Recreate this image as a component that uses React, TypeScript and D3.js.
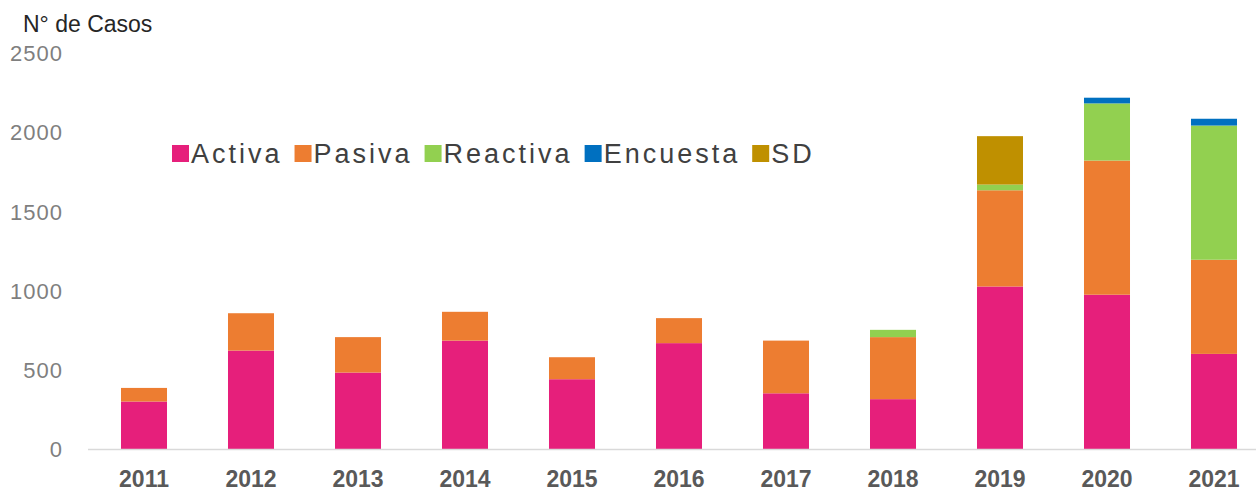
import React, { useEffect, useRef } from 'react';
import * as d3 from 'd3';

const years = ['2011', '2012', '2013', '2014', '2015', '2016', '2017', '2018', '2019', '2020', '2021'];
const activa = [300, 622, 483, 685, 441, 669, 352, 315, 1027, 975, 601];
const pasiva = [86, 236, 224, 182, 139, 158, 333, 392, 608, 848, 595];
const reactiva = [0, 0, 0, 0, 0, 0, 0, 46, 36, 361, 848];
const encuesta = [0, 0, 0, 0, 0, 0, 0, 0, 0, 36, 43];
const sd = [0, 0, 0, 0, 0, 0, 0, 0, 306, 0, 0];
const seriesNames = ['Activa', 'Pasiva', 'Reactiva', 'Encuesta', 'SD'];
const seriesColors = ['#E61F7B', '#ED7D31', '#92D050', '#0070C0', '#BF9000'];
const yTicks = [0, 500, 1000, 1500, 2000, 2500];

const width = 1256;
const height = 490;

const App = () => {
  const ref = useRef<SVGSVGElement>(null);

  useEffect(() => {
    const svg = d3.select(ref.current);
    svg.selectAll('*').remove();

    const rows = years.map((y, i) => ({
      year: y,
      Activa: activa[i],
      Pasiva: pasiva[i],
      Reactiva: reactiva[i],
      Encuesta: encuesta[i],
      SD: sd[i],
    }));

    const x = d3
      .scaleBand<string>()
      .domain(years)
      .range([90.5, 1267.5])
      .paddingInner(0.57)
      .paddingOuter(0.285);

    const y = d3.scaleLinear().domain([0, 2500]).range([449, 53.4]);

    // y tick labels only (no gridlines)
    svg
      .append('g')
      .selectAll('text')
      .data(yTicks)
      .join('text')
      .attr('x', 63)
      .attr('y', (d) => y(d))
      .attr('dy', '0.36em')
      .attr('text-anchor', 'end')
      .attr('font-family', 'Liberation Sans, Arial, sans-serif')
      .attr('font-size', 22)
      .attr('letter-spacing', 1)
      .attr('fill', '#7f7f7f')
      .text((d) => d);

    svg
      .append('text')
      .attr('x', 23)
      .attr('y', 32)
      .attr('font-family', 'Liberation Sans, Arial, sans-serif')
      .attr('font-size', 23)
      .attr('fill', '#262626')
      .text('N° de Casos');

    const stack = d3.stack<any>().keys(seriesNames)(rows);

    stack.forEach((layer, si) => {
      svg
        .append('g')
        .attr('fill', seriesColors[si])
        .selectAll('rect')
        .data(layer.filter((d) => d[1] - d[0] > 0))
        .join('rect')
        .attr('x', (d) => x(d.data.year) as number)
        .attr('y', (d) => y(d[1]))
        .attr('width', x.bandwidth())
        .attr('height', (d) => y(d[0]) - y(d[1]));
    });

    // baseline
    svg
      .append('line')
      .attr('x1', 88)
      .attr('x2', width)
      .attr('y1', y(0) + 0.5)
      .attr('y2', y(0) + 0.5)
      .attr('stroke', '#d9d9d9')
      .attr('stroke-width', 1.5);

    svg
      .append('g')
      .selectAll('text')
      .data(years)
      .join('text')
      .attr('x', (d) => (x(d) as number) + x.bandwidth() / 2)
      .attr('y', 487)
      .attr('text-anchor', 'middle')
      .attr('font-family', 'Liberation Sans, Arial, sans-serif')
      .attr('font-weight', 'bold')
      .attr('font-size', 23)
      .attr('fill', '#595959')
      .text((d) => d);

    // legend
    const legend = svg.append('g').attr('transform', 'translate(172,0)');
    let lx = 0;
    seriesNames.forEach((name, i) => {
      legend
        .append('rect')
        .attr('x', lx)
        .attr('y', 145)
        .attr('width', 17)
        .attr('height', 17)
        .attr('fill', seriesColors[i]);
      const t = legend
        .append('text')
        .attr('x', lx + 19)
        .attr('y', 163)
        .attr('font-family', 'Liberation Sans, Arial, sans-serif')
        .attr('font-size', 27)
        .attr('letter-spacing', 3)
        .attr('fill', '#404040')
        .text(name);
      const w = (t.node() as SVGTextElement).getComputedTextLength();
      lx += 19 + w + 12;
    });
  }, []);

  return (
    <svg
      ref={ref}
      width={width}
      height={height}
      style={{ position: 'absolute', left: 0, top: 0, background: '#fff' }}
    />
  );
};

export default App;
